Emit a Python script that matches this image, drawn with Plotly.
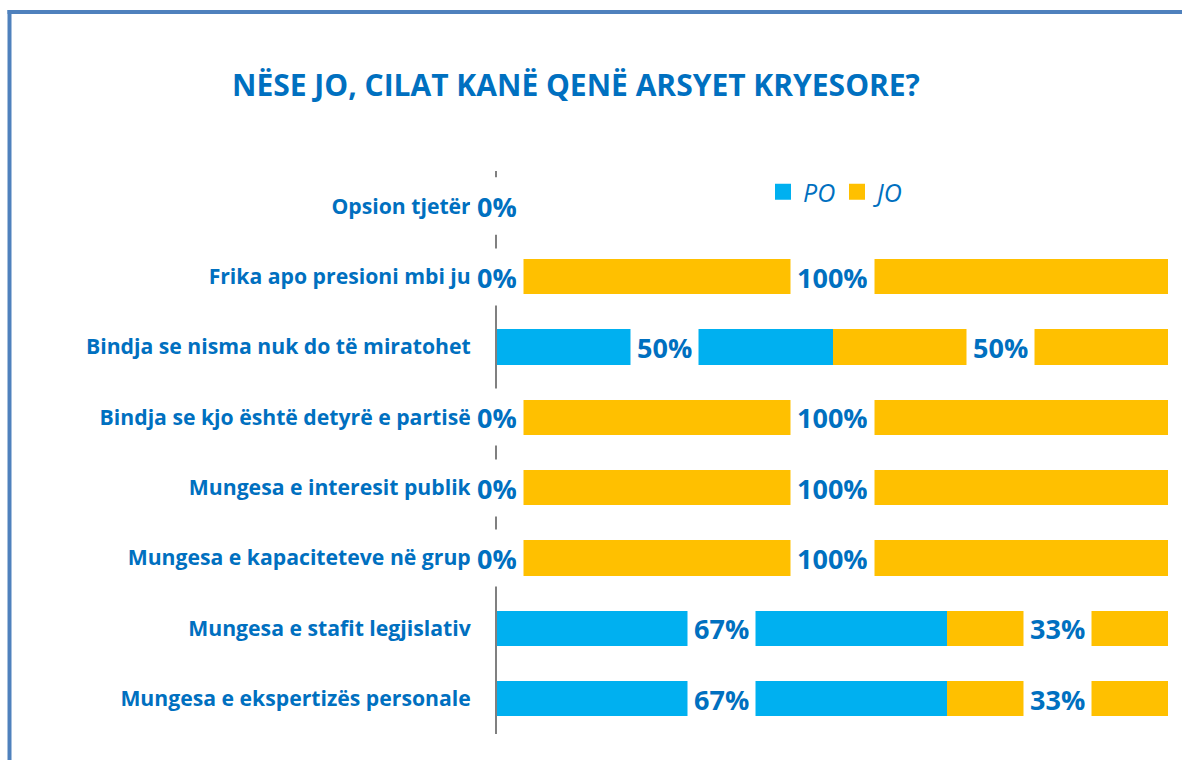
import plotly.graph_objects as go

categories = [
    "Opsion tjetër",
    "Frika apo presioni mbi ju",
    "Bindja se nisma nuk do të miratohet",
    "Bindja se kjo është detyrë e partisë",
    "Mungesa e interesit publik",
    "Mungesa e kapaciteteve në grup",
    "Mungesa e stafit legjislativ",
    "Mungesa e ekspertizës personale",
]
po_values = [0, 0, 50, 0, 0, 0, 67, 67]
jo_values = [0, 100, 50, 100, 100, 100, 33, 33]
series_names = ["PO", "JO"]
title_text = "NËSE JO, CILAT KANË QENË ARSYET KRYESORE?"

PO_COLOR = "#00B0F0"
JO_COLOR = "#FFC000"
TEXT_COLOR = "#0070C0"
FONT = "Open Sans"

W, H = 1182, 760
ML, MR, MT, MB = 497, 14, 171, 26
PW, PH = W - ML - MR, H - MT - MB


def px_to_paper_x(px):
    return (px - ML) / PW


def px_to_paper_y(py):
    return (H - MB - py) / PH


fig = go.Figure()
for name, vals, color in ((series_names[0], po_values, PO_COLOR), (series_names[1], jo_values, JO_COLOR)):
    fig.add_trace(go.Bar(y=categories, x=vals, name=name, orientation="h", showlegend=False,
                         marker=dict(color=color, line=dict(width=0)), width=0.5))
# legend entries (square swatches)
for name, color in ((series_names[0], PO_COLOR), (series_names[1], JO_COLOR)):
    fig.add_trace(go.Scatter(x=[None], y=[None], mode="markers", name=name,
                             marker=dict(symbol="square", size=17, color=color)))

annotations = []
for cat, po, jo in zip(categories, po_values, jo_values):
    for xpos, val in ((po / 2, po), (po + jo / 2, jo)):
        annotations.append(dict(
            x=xpos, y=cat, xref="x", yref="y", text=f"{val}%", showarrow=False,
            font=dict(family=FONT, size=27, color=TEXT_COLOR, weight="bold"),
            bgcolor="white", borderpad=6, height=44, xanchor="center", yanchor="middle",
        ))

shapes = [
    dict(type="line", xref="paper", yref="paper",
         x0=px_to_paper_x(9.5), x1=px_to_paper_x(9.5),
         y0=px_to_paper_y(10), y1=px_to_paper_y(800),
         line=dict(color="#4F81BD", width=4)),
    dict(type="line", xref="paper", yref="paper",
         x0=px_to_paper_x(7.5), x1=px_to_paper_x(1200),
         y0=px_to_paper_y(12), y1=px_to_paper_y(12),
         line=dict(color="#4F81BD", width=4)),
]

fig.update_layout(
    width=W, height=H,
    margin=dict(l=ML, r=MR, t=MT, b=MB),
    barmode="stack",
    bargap=0.5,
    plot_bgcolor="white", paper_bgcolor="white",
    title=dict(text=title_text, x=576 / W, xanchor="center", y=1 - 85 / H, yanchor="middle",
               font=dict(family=FONT, size=30, color=TEXT_COLOR, weight="bold")),
    xaxis=dict(range=[0, 100], visible=False, fixedrange=True),
    yaxis=dict(autorange="reversed", showline=True, linecolor="#808080", linewidth=2,
               showgrid=False, zeroline=False, ticks="", ticklabelstandoff=20,
               tickfont=dict(family=FONT, size=21.2, color=TEXT_COLOR, weight="bold")),
    legend=dict(orientation="h", x=px_to_paper_x(763), xanchor="left",
                y=px_to_paper_y(192), yanchor="middle", traceorder="normal",
                entrywidth=29, entrywidthmode="pixels",
                font=dict(family=FONT, size=25, color=TEXT_COLOR, style="italic"),
                bgcolor="rgba(0,0,0,0)"),
    annotations=annotations,
    shapes=shapes,
    showlegend=True,
)

fig.write_html("out.html", config={"displayModeBar": False},
               post_script="document.body.style.margin='0';document.body.style.overflow='hidden';")
